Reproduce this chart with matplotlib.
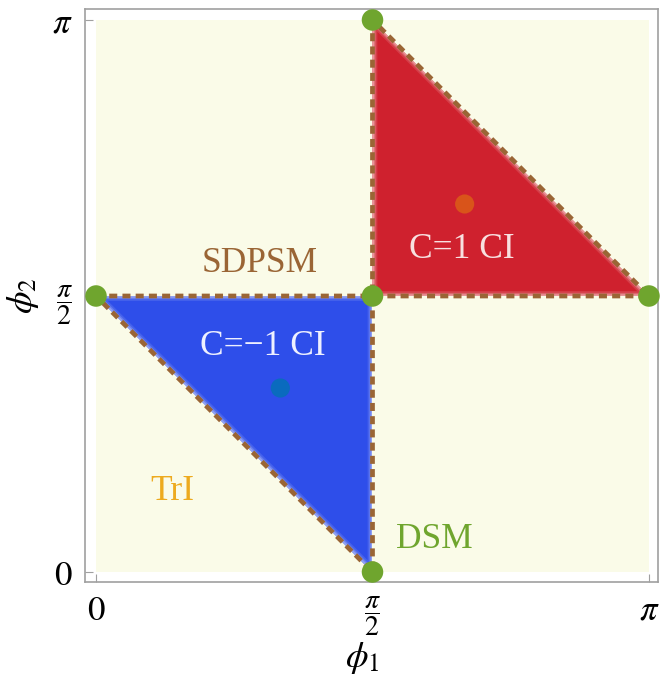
import numpy as np
import matplotlib.pyplot as plt
from matplotlib.patches import Polygon

plt.rcParams['font.family'] = ['Liberation Serif', 'DejaVu Serif']
plt.rcParams['mathtext.fontset'] = 'stix'

pi = np.pi

# regions (vertices in units of pi)
blue_tri = [(0, 0.5), (0.5, 0.5), (0.5, 0)]
red_tri = [(0.5, 1), (0.5, 0.5), (1, 0.5)]
green_pts_x = [0.5, 0, 0.5, 1, 0.5]
green_pts_y = [1, 0.5, 0.5, 0.5, 0]
blue_dot = (1/3, 1/3)
red_dot = (2/3, 2/3)

labels = ["SDPSM", "C=\u22121 CI", "C=1 CI", "TrI", "DSM"]
label_x = [0.296, 0.302, 0.662, 0.138, 0.612]
label_y = [0.558, 0.408, 0.585, 0.145, 0.058]
label_colors = ["#9A6535", "#EEF0FF", "#F8E0E0", "#EDAA1E", "#6FA52E"]

ticks = [0, 0.5, 1]
ticklabels = ["$0$", r"$\dfrac{\pi}{2}$", r"$\pi$"]

fig = plt.figure(figsize=(6.69, 6.83), dpi=100)
ax = fig.add_axes([85/669, 1-582/683, 573/669, 573/683])

# background
ax.add_patch(Polygon(np.array([(0, 0), (1, 0), (1, 1), (0, 1)]) * pi,
                     closed=True, facecolor="#FAFBE8", edgecolor="none", zorder=0))

# triangles with a soft, lighter fringe on the inside
for tri, col, fringe in [(blue_tri, "#2E4EEA", "#B8C2F6"), (red_tri, "#CF212E", "#F2C4C4")]:
    p = np.array(tri) * pi
    body = Polygon(p, closed=True, facecolor=col, edgecolor="none", zorder=1)
    ax.add_patch(body)
    for lw, a in [(7, 0.18), (4.5, 0.3), (2.5, 0.5)]:
        edge = Polygon(p, closed=True, facecolor="none", edgecolor=fringe,
                       lw=lw, alpha=a, zorder=2, joinstyle="miter")
        ax.add_patch(edge)
        edge.set_clip_path(body)

# dashed boundaries
dash_col = "#9A6535"
for tri in [blue_tri, red_tri]:
    p = np.array(tri + [tri[0]]) * pi
    ax.plot(p[:, 0], p[:, 1], ls=(0, (1.7, 1.1)), color=dash_col, lw=3.4,
            zorder=3, solid_capstyle="butt")

ax.scatter(np.array(green_pts_x) * pi, np.array(green_pts_y) * pi, s=240,
           color="#6FA52E", zorder=5, clip_on=False, edgecolors="none")
ax.scatter([blue_dot[0] * pi], [blue_dot[1] * pi], s=190, color="#0A6BBE",
           zorder=4, edgecolors="none")
ax.scatter([red_dot[0] * pi], [red_dot[1] * pi], s=190, color="#D9541A",
           zorder=4, edgecolors="none")

for t, x, y, c in zip(labels, label_x, label_y, label_colors):
    ax.text(x * pi, y * pi, t, color=c, fontsize=25.5, ha="center", va="center", zorder=6)

ax.set_xlim(-0.0199 * pi, 1.0163 * pi)
ax.set_ylim(-0.0181 * pi, 1.0199 * pi)
ax.set_xticks(np.array(ticks) * pi)
ax.set_xticklabels(ticklabels)
ax.set_yticks(np.array(ticks) * pi)
ax.set_yticklabels(ticklabels)
ax.tick_params(direction="in", length=6, color="#A0A0A0", labelsize=25, pad=9)
for lbl in ax.get_xticklabels() + ax.get_yticklabels():
    if "frac" in lbl.get_text():
        lbl.set_fontsize(20)
for s in ax.spines.values():
    s.set_color("#A0A0A0")
    s.set_linewidth(1.2)

ax.set_xlabel(r"$\phi_1$", fontsize=26)
ax.set_ylabel(r"$\phi_2$", fontsize=26)
ax.xaxis.set_label_coords(0.484, -0.102)
ax.yaxis.set_label_coords(-0.077, 0.5)

fig.savefig("out.png", dpi=100)
